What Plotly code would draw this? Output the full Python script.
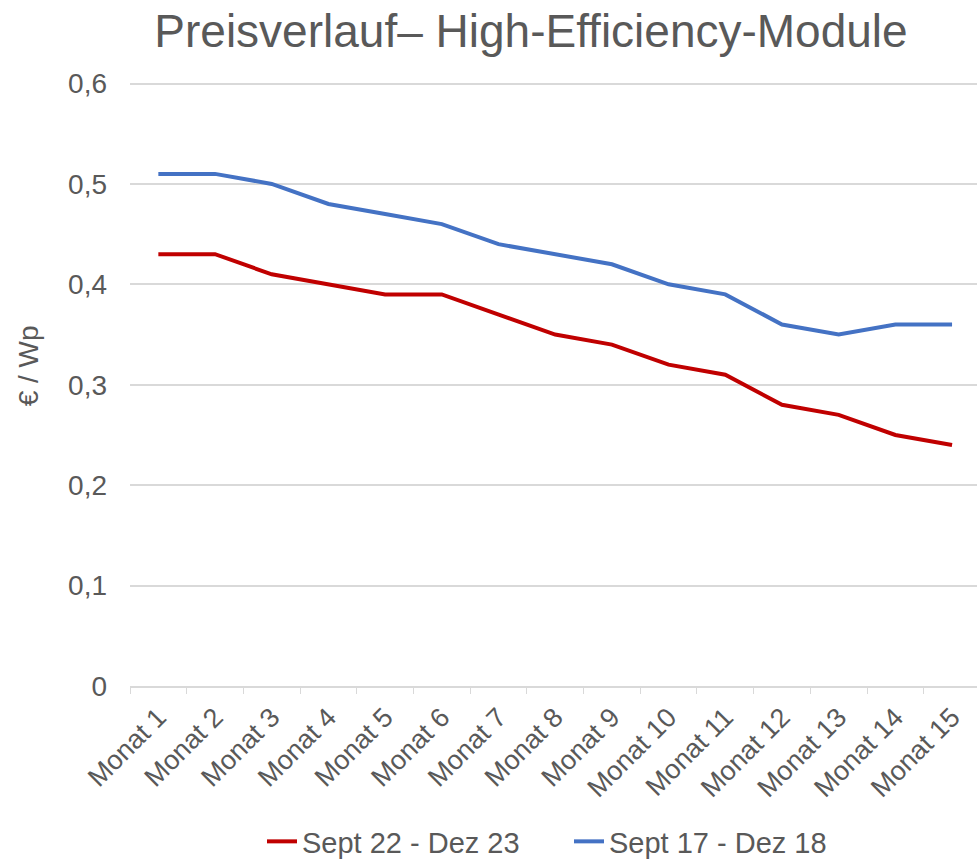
import plotly.graph_objects as go

months = [f"Monat {i}" for i in range(1, 16)]
series_red_name = "Sept 22 - Dez 23"
series_red = [0.43, 0.43, 0.41, 0.40, 0.39, 0.39, 0.37, 0.35, 0.34, 0.32, 0.31, 0.28, 0.27, 0.25, 0.24]
series_blue_name = "Sept 17 - Dez 18"
series_blue = [0.51, 0.51, 0.50, 0.48, 0.47, 0.46, 0.44, 0.43, 0.42, 0.40, 0.39, 0.36, 0.35, 0.36, 0.36]
y_tickvals = [0, 0.1, 0.2, 0.3, 0.4, 0.5, 0.6]
y_ticktext = ["0", "0,1", "0,2", "0,3", "0,4", "0,5", "0,6"]
y_title = "€ / Wp"
chart_title = "Preisverlauf\u2013 High-Efficiency-Module"

FONT = "Liberation Sans, Arial, sans-serif"
GRAY = "#595959"

W, H = 977, 867
L, R, T, B = 130, 0, 82, 169
PW, PH = W - L - R, H - T - B

fig = go.Figure()
fig.add_trace(go.Scatter(x=months, y=series_red, name=series_red_name, mode="lines",
                         line=dict(color="#C00000", width=4)))
fig.add_trace(go.Scatter(x=months, y=series_blue, name=series_blue_name, mode="lines",
                         line=dict(color="#4472C4", width=4)))

fig.update_layout(
    width=W, height=H,
    margin=dict(l=L, r=R, t=T, b=B),
    plot_bgcolor="white", paper_bgcolor="white",
    font=dict(family=FONT, color=GRAY, size=26),
    title=dict(text=chart_title,
               font=dict(family=FONT, size=46, color=GRAY),
               x=531/W, xref="container", xanchor="center",
               y=1 - 31/H, yref="container", yanchor="middle"),
    showlegend=True,
    legend=dict(orientation="h", x=(569-L)/PW, xanchor="center",
                y=-(857-(H-B))/PH, yanchor="middle", entrywidth=262,
                font=dict(size=29, color=GRAY)),
    xaxis=dict(type="category", range=[-0.5, 14.44], automargin=False,
               showline=True, linecolor="#d9d9d9", linewidth=1.5,
               ticks="outside", tickson="boundaries", ticklen=6, tickcolor="#d9d9d9",
               tickangle=-45, tickfont=dict(size=27, color=GRAY), ticklabelstandoff=3,
               showgrid=False),
    yaxis=dict(range=[0, 0.6015], tickvals=y_tickvals, ticktext=y_ticktext, automargin=False,
               showgrid=True, gridcolor="#d9d9d9", gridwidth=1.5,
               zeroline=False, showline=False, ticks="",
               ticklabelstandoff=22,
               tickfont=dict(size=28, color=GRAY)),
    annotations=[dict(text=y_title, textangle=-90, showarrow=False,
                      xref="paper", yref="paper",
                      x=(28-L)/PW, y=((H-B)-372)/PH,
                      xanchor="center", yanchor="middle",
                      font=dict(size=28, color=GRAY))],
)

page_fix = (
    "var s=[document.documentElement.style, document.body.style];"
    "s.forEach(function(x){x.margin='0';x.padding='0';x.overflow='hidden';x.height='867px';});"
)

fig.write_html("out.html", config={"displayModeBar": False}, post_script=page_fix)
